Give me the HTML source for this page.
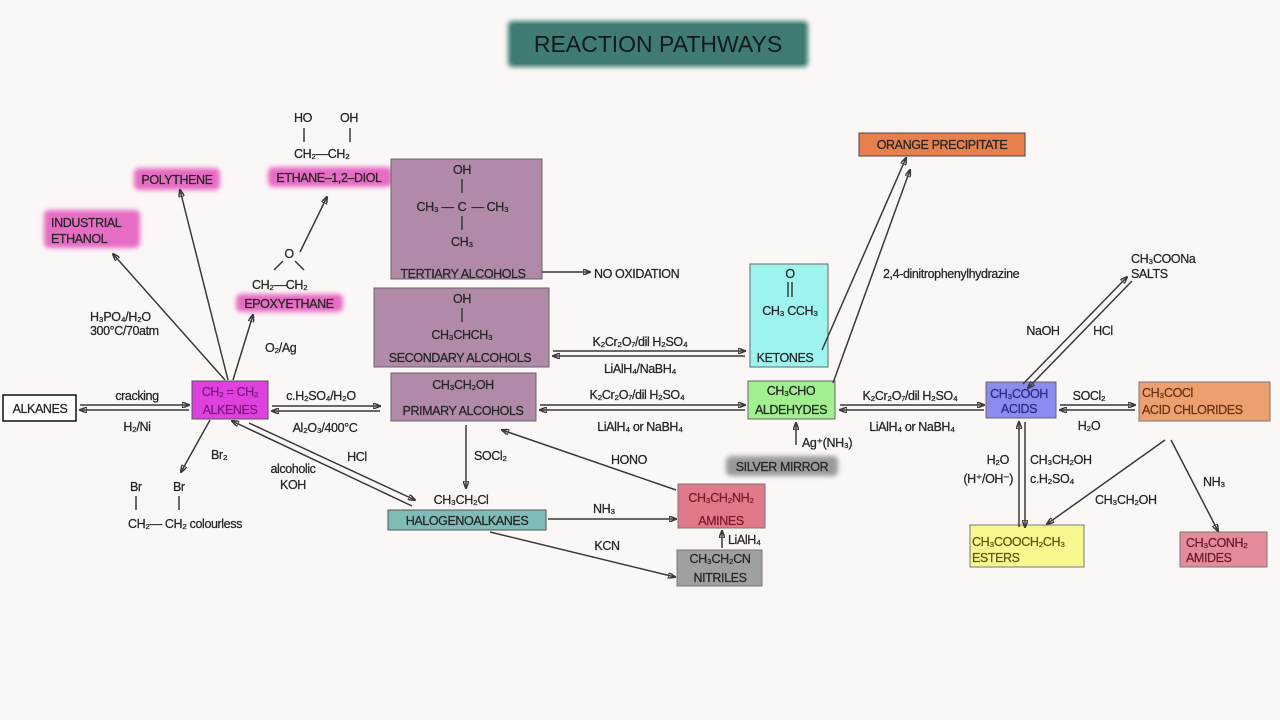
<!DOCTYPE html>
<html><head><meta charset="utf-8"><style>
html,body{margin:0;padding:0;background:#fbf7f6;}
svg{display:block;}
text{font-family:"Liberation Sans","DejaVu Sans",sans-serif;font-size:12.5px;fill:#262626;letter-spacing:-0.4px;stroke:#262626;stroke-width:0.25px;}
.c{text-anchor:middle;}
line,path{stroke:#3a3a3a;stroke-width:1.5;fill:none;}
</style></head><body>
<svg width="1280" height="720" viewBox="0 0 1280 720" xmlns="http://www.w3.org/2000/svg">
<defs>
<marker id="a" markerWidth="8" markerHeight="6" refX="7" refY="3" orient="auto" markerUnits="userSpaceOnUse"><path d="M0,0 L8,3 L0,6 z" fill="#3a3a3a" stroke="none"/></marker>
<filter id="b" x="-20%" y="-40%" width="140%" height="180%"><feGaussianBlur stdDeviation="2.5"/></filter>
</defs>
<rect width="1280" height="720" fill="#fbf7f6"/>
<!-- title -->
<rect x="508" y="21" width="300" height="46" rx="4" fill="#3f7b73" filter="url(#b)"/>
<rect x="512" y="24" width="292" height="40" rx="3" fill="#3f7b73"/>
<text x="658" y="52" class="c" style="font-size:23px;fill:#0f1a1a;stroke:none;letter-spacing:0">REACTION PATHWAYS</text>

<!-- highlights -->
<rect x="44" y="210" width="96" height="38" rx="5" fill="#e66cc4" filter="url(#b)"/>
<rect x="134" y="168" width="86" height="22" rx="5" fill="#e66cc4" filter="url(#b)"/>
<rect x="268" y="167" width="124" height="20" rx="5" fill="#e66cc4" filter="url(#b)"/>
<rect x="236" y="294" width="107" height="18" rx="5" fill="#e66cc4" filter="url(#b)"/>
<rect x="726" y="456" width="112" height="20" rx="5" fill="#9a9a9a" filter="url(#b)"/>
<text x="51" y="227">INDUSTRIAL</text><text x="51" y="243">ETHANOL</text>
<text x="177" y="184" class="c">POLYTHENE</text>
<text x="329" y="182" class="c">ETHANE–1,2–DIOL</text>
<text x="289" y="308" class="c">EPOXYETHANE</text>
<text x="782" y="471" class="c">SILVER MIRROR</text>

<!-- boxes -->
<rect x="3" y="395" width="73" height="26" fill="#fff" stroke="#111" stroke-width="1.5"/>
<text x="40" y="413" class="c">ALKANES</text>
<rect x="192" y="381" width="76" height="38" fill="#e040e0" stroke="#555"/>
<text x="230" y="396" class="c" style="fill:#7a1a7a;stroke:#7a1a7a">CH₂ = CH₂</text>
<text x="230" y="414" class="c" style="fill:#7a1a7a;stroke:#7a1a7a">ALKENES</text>

<rect x="391" y="159" width="151" height="120" fill="#b08aa8" stroke="#666"/>
<text x="462" y="174" class="c">OH</text>
<line x1="462" y1="179" x2="462" y2="193"/>
<text x="435" y="211" class="c">CH₃ —</text><text x="462" y="211" class="c">C</text><text x="490" y="211" class="c">— CH₃</text>
<line x1="462" y1="216" x2="462" y2="230"/>
<text x="462" y="246" class="c">CH₃</text>
<text x="463" y="278" class="c">TERTIARY ALCOHOLS</text>
<line x1="542" y1="272" x2="590" y2="272" marker-end="url(#a)"/>
<text x="594" y="278">NO OXIDATION</text>

<rect x="374" y="288" width="175" height="79" fill="#b08aa8" stroke="#666"/>
<text x="462" y="303" class="c">OH</text>
<line x1="462" y1="308" x2="462" y2="322"/>
<text x="462" y="339" class="c">CH₃CHCH₃</text>
<text x="460" y="362" class="c">SECONDARY ALCOHOLS</text>

<rect x="391" y="373" width="145" height="48" fill="#b08aa8" stroke="#666"/>
<text x="463" y="389" class="c">CH₃CH₂OH</text>
<text x="463" y="415" class="c">PRIMARY ALCOHOLS</text>

<rect x="388" y="510" width="158" height="20" fill="#7fbcb8" stroke="#555"/>
<text x="467" y="525" class="c">HALOGENOALKANES</text>
<text x="461" y="504" class="c">CH₃CH₂Cl</text>

<rect x="678" y="484" width="87" height="44" fill="#e07a8a" stroke="#777"/>
<text x="721" y="502" class="c" style="fill:#7a1a2a;stroke:#7a1a2a">CH₃CH₂NH₂</text>
<text x="721" y="525" class="c" style="fill:#7a1a2a;stroke:#7a1a2a">AMINES</text>
<rect x="677" y="550" width="85" height="36" fill="#a0a0a0" stroke="#777"/>
<text x="720" y="563" class="c">CH₃CH₂CN</text>
<text x="720" y="582" class="c">NITRILES</text>

<rect x="750" y="264" width="78" height="103" fill="#9ef5f0" stroke="#666"/>
<text x="790" y="278" class="c">O</text>
<line x1="788" y1="282" x2="788" y2="297"/><line x1="792" y1="282" x2="792" y2="297"/>
<text x="790" y="315" class="c">CH₃ CCH₃</text>
<text x="785" y="362" class="c">KETONES</text>

<rect x="748" y="381" width="87" height="38" fill="#a0f090" stroke="#666"/>
<text x="791" y="395" class="c">CH₃CHO</text>
<text x="791" y="414" class="c">ALDEHYDES</text>

<rect x="859" y="133" width="166" height="23" fill="#e8804e" stroke="#444"/>
<text x="942" y="149" class="c">ORANGE PRECIPITATE</text>

<rect x="986" y="382" width="70" height="36" fill="#8c8cee" stroke="#666"/>
<text x="1019" y="398" class="c" style="fill:#2a2a8a;stroke:#2a2a8a">CH₃COOH</text>
<text x="1019" y="413" class="c" style="fill:#2a2a8a;stroke:#2a2a8a">ACIDS</text>

<rect x="1139" y="382" width="131" height="39" fill="#eca070" stroke="#777"/>
<text x="1142" y="397" style="fill:#6a3010;stroke:#6a3010">CH₃COCl</text>
<text x="1142" y="414" style="fill:#6a3010;stroke:#6a3010">ACID CHLORIDES</text>

<rect x="970" y="525" width="114" height="42" fill="#f8f890" stroke="#777"/>
<text x="972" y="546" style="fill:#5a5a10;stroke:#5a5a10">CH₃COOCH₂CH₃</text>
<text x="972" y="562" style="fill:#5a5a10;stroke:#5a5a10">ESTERS</text>

<rect x="1180" y="532" width="87" height="35" fill="#e48c9c" stroke="#777"/>
<text x="1186" y="547" style="fill:#6a1a2a;stroke:#6a1a2a">CH₃CONH₂</text>
<text x="1186" y="562" style="fill:#6a1a2a;stroke:#6a1a2a">AMIDES</text>

<text x="1131" y="263">CH₃COONa</text><text x="1131" y="278">SALTS</text>

<!-- arrows -->
<line x1="80" y1="405" x2="189" y2="405" marker-end="url(#a)"/>
<line x1="189" y1="410" x2="80" y2="410" marker-end="url(#a)"/>
<text x="137" y="400" class="c">cracking</text><text x="137" y="431" class="c">H₂/Ni</text>
<line x1="272" y1="406" x2="380" y2="406" marker-end="url(#a)"/>
<line x1="380" y1="411" x2="272" y2="411" marker-end="url(#a)"/>
<text x="321" y="400" class="c">c.H₂SO₄/H₂O</text><text x="325" y="432" class="c">Al₂O₃/400°C</text>

<line x1="225" y1="380" x2="113" y2="254" marker-end="url(#a)"/>
<text x="90" y="321">H₃PO₄/H₂O</text><text x="90" y="335">300°C/70atm</text>
<line x1="228" y1="380" x2="180" y2="190" marker-end="url(#a)"/>
<line x1="233" y1="380" x2="253" y2="315" marker-end="url(#a)"/>
<text x="265" y="352">O₂/Ag</text>
<text x="289" y="258" class="c">O</text>
<line x1="283" y1="261" x2="274" y2="270"/><line x1="295" y1="261" x2="304" y2="270"/>
<text x="252" y="289">CH₂—CH₂</text>
<line x1="300" y1="252" x2="327" y2="197" marker-end="url(#a)"/>
<text x="294" y="122">HO</text><text x="340" y="122">OH</text>
<line x1="304" y1="128" x2="304" y2="142"/><line x1="350" y1="128" x2="350" y2="142"/>
<text x="294" y="158">CH₂—CH₂</text>

<line x1="210" y1="420" x2="181" y2="472" marker-end="url(#a)"/>
<text x="211" y="459">Br₂</text>
<text x="130" y="491">Br</text><text x="173" y="491">Br</text>
<line x1="136" y1="496" x2="136" y2="510"/><line x1="179" y1="496" x2="179" y2="510"/>
<text x="128" y="528">CH₂— CH₂ colourless</text>

<line x1="249" y1="423" x2="415" y2="500" marker-end="url(#a)"/>
<line x1="412" y1="506" x2="232" y2="421" marker-end="url(#a)"/>
<text x="357" y="461" class="c">HCl</text>
<text x="293" y="473" class="c">alcoholic</text><text x="293" y="489" class="c">KOH</text>

<line x1="466" y1="425" x2="466" y2="488" marker-end="url(#a)"/>
<text x="474" y="460">SOCl₂</text>

<line x1="548" y1="519" x2="676" y2="519" marker-end="url(#a)"/>
<text x="604" y="513" class="c">NH₃</text>
<line x1="490" y1="532" x2="675" y2="577" marker-end="url(#a)"/>
<text x="607" y="550" class="c">KCN</text>
<line x1="722" y1="548" x2="722" y2="531" marker-end="url(#a)"/>
<text x="728" y="544">LiAlH₄</text>
<line x1="676" y1="490" x2="502" y2="430" marker-end="url(#a)"/>
<text x="629" y="464" class="c">HONO</text>

<line x1="553" y1="351" x2="745" y2="351" marker-end="url(#a)"/>
<line x1="745" y1="356" x2="553" y2="356" marker-end="url(#a)"/>
<text x="640" y="346" class="c">K₂Cr₂O₇/dil H₂SO₄</text><text x="640" y="373" class="c">LiAlH₄/NaBH₄</text>

<line x1="540" y1="405" x2="745" y2="405" marker-end="url(#a)"/>
<line x1="745" y1="410" x2="540" y2="410" marker-end="url(#a)"/>
<text x="637" y="399" class="c">K₂Cr₂O₇/dil H₂SO₄</text><text x="640" y="431" class="c">LiAlH₄ or NaBH₄</text>

<line x1="796" y1="445" x2="796" y2="423" marker-end="url(#a)"/>
<text x="802" y="447">Ag⁺(NH₃)</text>

<line x1="822" y1="350" x2="906" y2="158" marker-end="url(#a)"/>
<line x1="833" y1="383" x2="910" y2="170" marker-end="url(#a)"/>
<text x="883" y="278">2,4-dinitrophenylhydrazine</text>

<line x1="840" y1="405" x2="984" y2="405" marker-end="url(#a)"/>
<line x1="984" y1="410" x2="840" y2="410" marker-end="url(#a)"/>
<text x="910" y="400" class="c">K₂Cr₂O₇/dil H₂SO₄</text><text x="912" y="431" class="c">LiAlH₄ or NaBH₄</text>

<line x1="1060" y1="405" x2="1135" y2="405" marker-end="url(#a)"/>
<line x1="1135" y1="410" x2="1060" y2="410" marker-end="url(#a)"/>
<text x="1089" y="400" class="c">SOCl₂</text><text x="1089" y="430" class="c">H₂O</text>

<line x1="1023" y1="384" x2="1127" y2="277" marker-end="url(#a)"/>
<line x1="1132" y1="281" x2="1028" y2="388" marker-end="url(#a)"/>
<text x="1043" y="335" class="c">NaOH</text><text x="1103" y="335" class="c">HCl</text>

<line x1="1019" y1="527" x2="1019" y2="422" marker-end="url(#a)"/>
<line x1="1025" y1="422" x2="1025" y2="527" marker-end="url(#a)"/>
<text x="1009" y="464" style="text-anchor:end">H₂O</text><text x="1013" y="483" style="text-anchor:end">(H⁺/OH⁻)</text>
<text x="1030" y="464">CH₃CH₂OH</text><text x="1030" y="483">c.H₂SO₄</text>

<line x1="1165" y1="440" x2="1047" y2="524" marker-end="url(#a)"/>
<text x="1095" y="504">CH₃CH₂OH</text>
<line x1="1171" y1="440" x2="1218" y2="531" marker-end="url(#a)"/>
<text x="1203" y="486">NH₃</text>
</svg>
</body></html>
